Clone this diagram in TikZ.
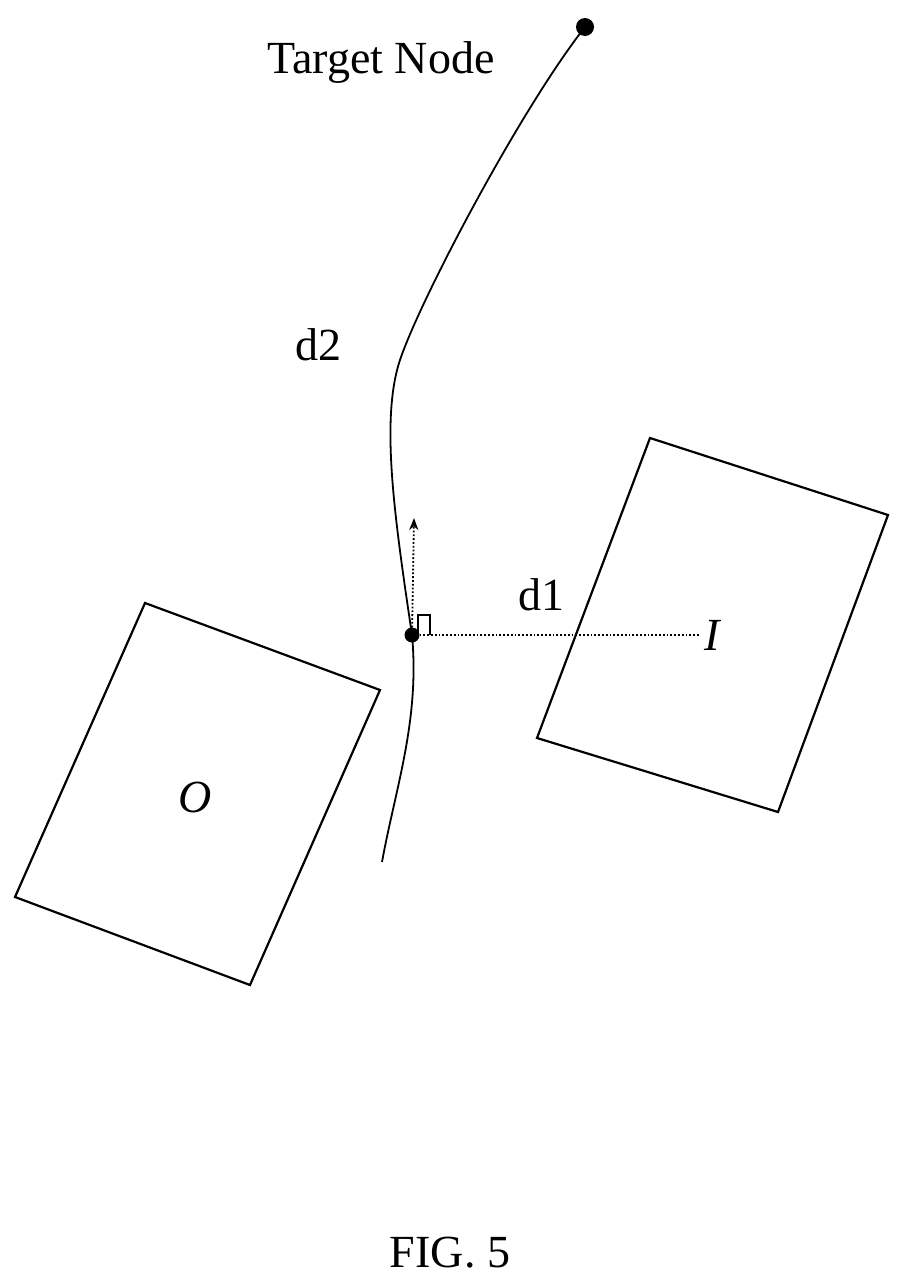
\documentclass[tikz,border=0pt]{standalone}
\usepackage{fontspec}
\setmainfont{Liberation Serif}
\usetikzlibrary{arrows.meta}
\begin{document}
\begin{tikzpicture}[x=1pt,y=-1pt,
  lbl/.style={font=\fontsize{46}{48}\selectfont, inner sep=0},
  box/.style={draw, line width=2.2pt},
  pt/.style={circle, fill, inner sep=0}]
\useasboundingbox (0,0) rectangle (902,1280);
\node[pt, minimum size=18] (tn) at (585,27) {};
\node[lbl] (tl) at (381,63) {Target Node};
\node[pt, minimum size=15] (cur) at (412,635) {};
\coordinate (ce) at (382,862);
\draw[line width=1.8pt] (tn.center) .. controls (520,110) and (420,300) .. (400,360)
  .. controls (380,420) and (395,520) .. (cur.center)
  .. controls (420,720) and (395,790) .. (ce);
\coordinate (ah) at (414,518);
\draw[line width=1.8pt, dotted, -{Stealth[length=12pt]}] (cur.center) -- (ah);
\coordinate (ip) at (700,635);
\draw[line width=1.8pt, dotted] (cur.center) -- (ip);
\draw[line width=1.6pt] (418,635) -- (418,615) -- (430,615) -- (430,635);
\node[lbl] (d1) at (541,595) {d1};
\node[lbl] (il) at (712,635) {\itshape I};
\node[lbl] (d2) at (318,345) {d2};
\draw[box] (145,603) -- (380,690) -- (250,985) -- (15,897) -- cycle;
\node[lbl] (ol) at (195,797) {\itshape O};
\draw[box] (650,438) -- (888,515) -- (778,812) -- (537,738) -- cycle;
\node[lbl] (fig) at (450,1253) {FIG. 5};
\end{tikzpicture}
\end{document}
